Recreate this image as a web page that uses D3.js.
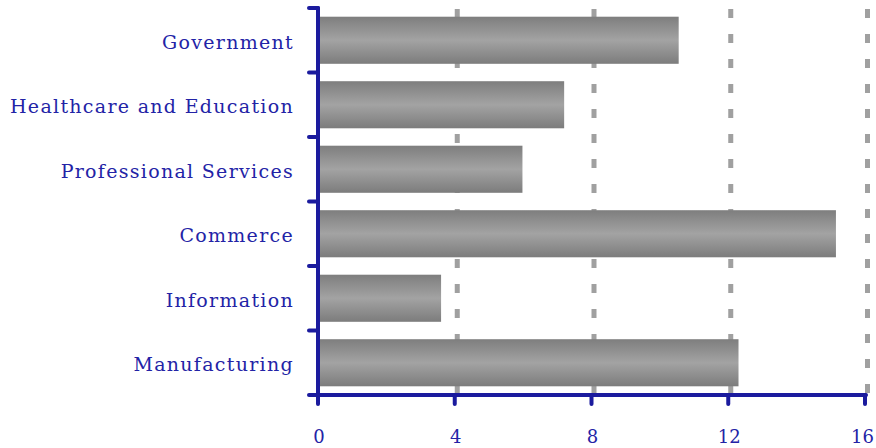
<!DOCTYPE html>
<html><head><meta charset="utf-8">
<script src="https://cdn.jsdelivr.net/npm/d3@7"></script>
<style>body{margin:0;background:#fff}svg{display:block}
text{font-family:"DejaVu Serif",serif}</style>
</head><body><svg id="c" width="876" height="448"></svg>
<script>
const categories = ["Government","Healthcare and Education","Professional Services","Commerce","Information","Manufacturing"];
const values = [10.55, 7.2, 5.98, 15.15, 3.6, 12.3];
const xTicks = [0, 4, 8, 12, 16];

const svg = d3.select("#c");
const W = 876;
const L = 318, R = 865, T = 8, B = 395;
const axisColor = "#1b1b9e", textColor = "#2323a6";

const x = d3.scaleLinear().domain([0, 16]).range([L, R]);
const y = d3.scaleBand().domain(categories).range([T, B]).paddingInner(0.27).paddingOuter(0.135);

const defs = svg.append("defs");
const g = defs.append("linearGradient").attr("id","bg").attr("x1",0).attr("y1",0).attr("x2",0).attr("y2",1);
g.append("stop").attr("offset","0%").attr("stop-color","#7e7e7e");
g.append("stop").attr("offset","50%").attr("stop-color","#a3a3a3");
g.append("stop").attr("offset","100%").attr("stop-color","#7c7c7c");

svg.append("g").selectAll("line").data(xTicks.slice(1)).join("line")
  .attr("x1", d => x(d) + 2.5).attr("x2", d => x(d) + 2.5)
  .attr("y1", T + 1).attr("y2", B)
  .attr("stroke", "#a0a0a0").attr("stroke-width", 5).attr("stroke-dasharray", "9,16");

svg.append("g").selectAll("rect").data(categories).join("rect")
  .attr("x", x(0) + 2).attr("y", d => y(d))
  .attr("width", (d,i) => x(values[i]) - x(0) - 2)
  .attr("height", y.bandwidth())
  .attr("fill", "url(#bg)");

const ax = svg.append("g").attr("stroke", axisColor).attr("stroke-width", 4).attr("stroke-linecap","round");
ax.append("line").attr("x1", L).attr("x2", L).attr("y1", T).attr("y2", B);
ax.append("line").attr("x1", L).attr("x2", R + 1).attr("y1", B).attr("y2", B);
const bounds = categories.map(c => y(c) - y.step()*y.paddingInner()/2);
bounds.push(B);
bounds[0] = T;
ax.selectAll(".yt").data(bounds).join("line").attr("class","yt")
  .attr("x1", L - 9).attr("x2", L).attr("y1", d => d).attr("y2", d => d);
ax.selectAll(".xt").data(xTicks).join("line").attr("class","xt")
  .attr("x1", d => x(d)).attr("x2", d => x(d)).attr("y1", B).attr("y2", B + 9);

svg.append("g").selectAll("text").data(categories).join("text")
  .attr("x", L - 24).attr("y", d => y(d) + y.bandwidth()/2 + 2)
  .attr("dy", "0.35em").attr("text-anchor", "end")
  .attr("font-size", 19)
  .attr("letter-spacing", "1.3px").attr("fill", textColor)
  .text(d => d);

svg.append("g").selectAll("text").data(xTicks).join("text")
  .attr("y", 443)
  .attr("text-anchor", "middle")
  .attr("font-size", 18)
  .attr("fill", textColor)
  .text(d => d)
  .attr("x", function(d) {
    const half = this.getComputedTextLength() / 2;
    return Math.min(x(d) + 1, W - half - 2);
  });
</script></body></html>
